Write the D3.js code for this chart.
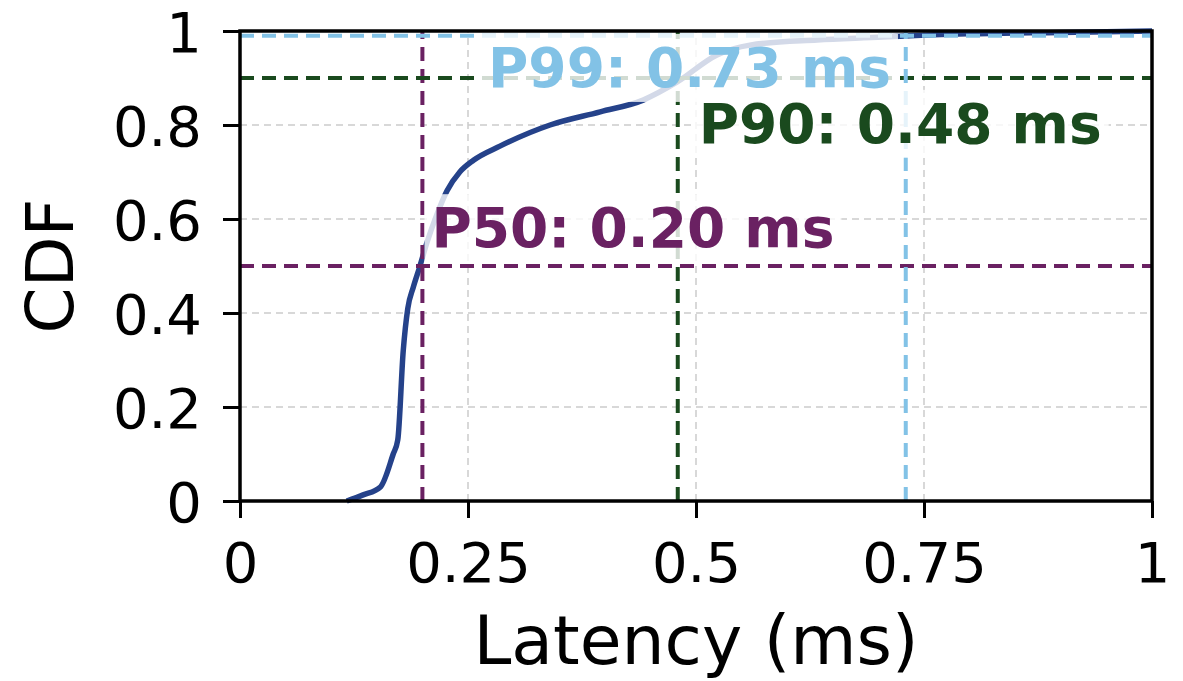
<!DOCTYPE html>
<html>
<head>
<meta charset="utf-8">
<script src="https://cdn.jsdelivr.net/npm/d3@7"></script>
<style>
  body { margin: 0; background: #fff; }
  text { font-family: "DejaVu Sans", sans-serif; }
</style>
</head>
<body>
<div id="chart"></div>
<script>
// latency CDF
const latency = [0.117, 0.135, 0.154, 0.168, 0.173, 0.179, 0.184, 0.190, 0.197, 0.205, 0.216, 0.227, 0.241, 0.256, 0.285, 0.340, 0.395, 0.442, 0.479, 0.523, 0.559, 0.633, 0.705, 0.735, 0.80, 0.90, 1.0];
const cdf     = [0.0,   0.013, 0.03,  0.10,  0.13,  0.32,  0.41,  0.455, 0.498, 0.55,  0.61,  0.66,  0.70,  0.725, 0.755, 0.80,  0.828, 0.853, 0.891, 0.949, 0.97,  0.981, 0.987, 0.99,  0.994, 0.997, 1.0];

const pctNames  = ["P50", "P90", "P99"];
const pctLevels = [0.5, 0.9, 0.99];
const pctValues = [0.20, 0.48, 0.73];
const pctColors = ["#6a2162", "#1a4a1e", "#82c2e6"];

const xTicks = [0, 0.25, 0.5, 0.75, 1];
const xTickLabels = ["0", "0.25", "0.5", "0.75", "1"];
const yTicks = [0, 0.2, 0.4, 0.6, 0.8, 1];
const yTickLabels = ["0", "0.2", "0.4", "0.6", "0.8", "1"];

const width = 1183, height = 681;
const margin = {top: 31, right: 31, bottom: 180, left: 240};

const svg = d3.select("#chart").append("svg")
  .attr("width", width)
  .attr("height", height);

const x = d3.scaleLinear().domain([0, 1]).range([margin.left, width - margin.right]);
const y = d3.scaleLinear().domain([0, 1]).range([height - margin.bottom, margin.top]);

// grid
svg.append("g").selectAll("line")
  .data(xTicks)
  .join("line")
  .attr("x1", d => x(d)).attr("x2", d => x(d))
  .attr("y1", y(0)).attr("y2", y(1))
  .attr("stroke", "#cccccc").attr("stroke-width", 1.5)
  .attr("stroke-dasharray", "7,5");
svg.append("g").selectAll("line")
  .data(yTicks)
  .join("line")
  .attr("x1", x(0)).attr("x2", x(1))
  .attr("y1", d => y(d)).attr("y2", d => y(d))
  .attr("stroke", "#cccccc").attr("stroke-width", 1.5)
  .attr("stroke-dasharray", "7,5");

// curve
const pts = latency.map((d, i) => [d, cdf[i]]);
svg.append("path")
  .datum(pts)
  .attr("fill", "none")
  .attr("stroke", "#25428a")
  .attr("stroke-width", 5.5)
  .attr("stroke-linejoin", "round")
  .attr("d", d3.line().x(d => x(d[0])).y(d => y(d[1])).curve(d3.curveMonotoneX));

// percentile lines
pctNames.forEach((n, i) => {
  svg.append("line")
    .attr("x1", x(0)).attr("x2", x(1))
    .attr("y1", y(pctLevels[i])).attr("y2", y(pctLevels[i]))
    .attr("stroke", pctColors[i]).attr("stroke-width", 4)
    .attr("stroke-dasharray", "14,8");
  svg.append("line")
    .attr("x1", x(pctValues[i])).attr("x2", x(pctValues[i]))
    .attr("y1", y(0)).attr("y2", y(1))
    .attr("stroke", pctColors[i]).attr("stroke-width", 4)
    .attr("stroke-dasharray", "14,8");
});

// labels with translucent white box
const labelX = [0.21, 0.503, 0.272];
const labelY = [0.54, 0.762, 0.881];
pctNames.forEach((n, i) => {
  const g = svg.append("g");
  const t = g.append("text")
    .attr("x", x(labelX[i]))
    .attr("y", y(labelY[i]))
    .attr("font-size", 55)
    .attr("font-weight", "bold")
    .attr("fill", pctColors[i])
    .text(n + ": " + pctValues[i].toFixed(2) + " ms");
  const b = t.node().getBBox();
  g.insert("rect", "text")
    .attr("x", b.x - 7).attr("y", b.y - 2)
    .attr("width", b.width + 14).attr("height", b.height + 4)
    .attr("fill", "white").attr("fill-opacity", 0.8);
});

// axes
const xAxis = svg.append("g")
  .attr("transform", `translate(0,${y(0)})`)
  .call(d3.axisBottom(x).tickValues(xTicks).tickFormat((d, i) => xTickLabels[i]).tickSize(17).tickPadding(24));
const yAxis = svg.append("g")
  .attr("transform", `translate(${x(0)},0)`)
  .call(d3.axisLeft(y).tickValues(yTicks).tickFormat((d, i) => yTickLabels[i]).tickSize(17).tickPadding(21));
[xAxis, yAxis].forEach(a => {
  a.select(".domain").remove();
  a.selectAll(".tick line").attr("stroke", "#000").attr("stroke-width", 3);
  a.selectAll(".tick text").attr("font-size", 56).attr("fill", "#000")
    .attr("font-family", "DejaVu Sans, sans-serif");
});
yAxis.selectAll(".tick text").attr("dy", "0.36em");

// frame
svg.append("rect")
  .attr("x", x(0)).attr("y", y(1))
  .attr("width", x(1) - x(0)).attr("height", y(0) - y(1))
  .attr("fill", "none").attr("stroke", "#000").attr("stroke-width", 3.5);

svg.append("text")
  .attr("x", (x(0) + x(1)) / 2).attr("y", 664)
  .attr("text-anchor", "middle")
  .attr("font-size", 68)
  .text("Latency (ms)");
svg.append("text")
  .attr("transform", `translate(73,${(y(0) + y(1)) / 2}) rotate(-90)`)
  .attr("text-anchor", "middle")
  .attr("font-size", 66)
  .text("CDF");
</script>
</body>
</html>
